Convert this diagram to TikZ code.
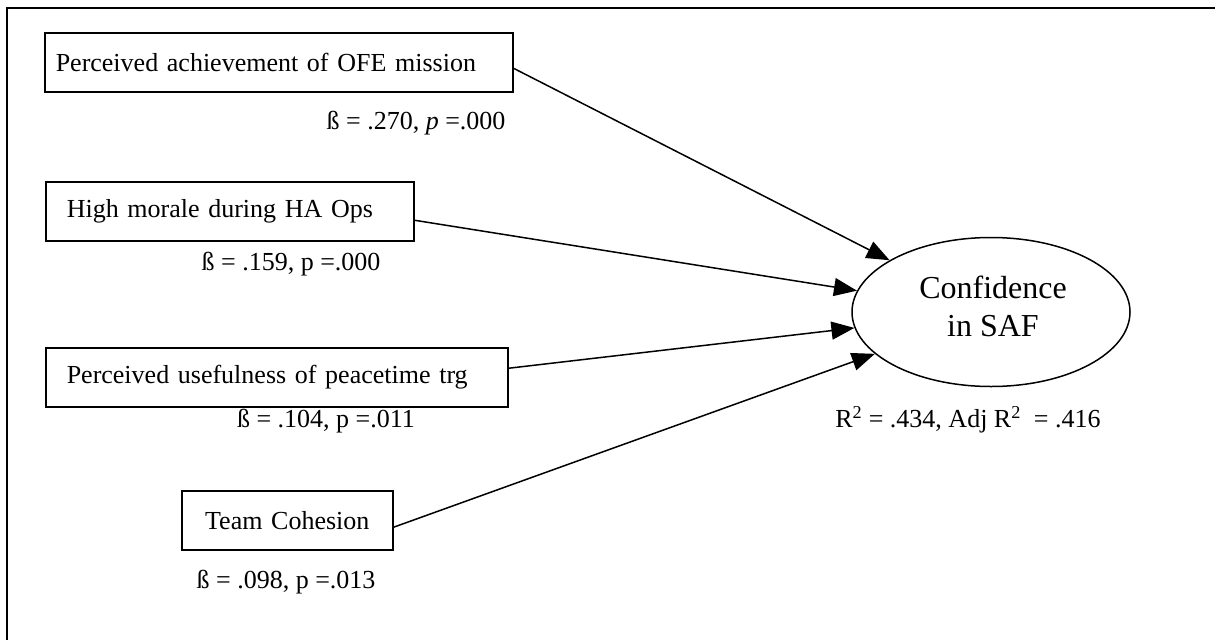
\documentclass[tikz,border=0pt]{standalone}
\usepackage{fontspec}
\setmainfont{Liberation Serif}
\usetikzlibrary{arrows.meta,shapes.geometric}
\begin{document}
\begin{tikzpicture}[x=1pt,y=-1pt,
  every node/.style={font=\fontsize{26}{30}\selectfont, inner sep=0pt},
  varbox/.style={draw, line width=1.5pt, anchor=north west, inner xsep=21pt, align=left, minimum height=59pt},
  coef/.style={anchor=center},
  arr/.style={line width=1.5pt, -{Triangle[length=23pt,width=18pt]}}]
\useasboundingbox (0,0) rectangle (1215,640);
\draw[line width=2.5pt] (7,640) -- (7,8) -- (1215,8);
% predictor boxes
\node[varbox, inner xsep=11pt, text width=446pt, minimum width=468pt] (b1) at (44,32) {Perceived achievement of OFE mission};
\node[varbox, text width=326pt, minimum width=368pt] (b2) at (45,181) {High morale during HA Ops};
\node[varbox, text width=420pt, minimum width=462pt] (b3) at (45,347) {Perceived usefulness of peacetime trg};
\node[varbox, text width=169pt, minimum width=211pt, align=center] (b4) at (181,490) {Team Cohesion};
% coefficient labels
\node[coef] (c1) at (416,123) {ß = .270, \textit{p} =.000};
\node[coef] (c2) at (291,264) {ß = .159, p =.000};
\node[coef] (c3) at (326,421) {ß = .104, p =.011};
\node[coef] (c4) at (286,582) {ß = .098, p =.013};
% outcome
\node[draw, ellipse, line width=1.5pt, minimum width=278pt, minimum height=149pt] (conf) at (991,312) {};
\node[align=center, font=\fontsize{32}{38}\selectfont] (conftext) at (993,306) {Confidence\\in SAF};
\node[coef] (r2) at (968,420) {R\textsuperscript{2} = .434, Adj R\textsuperscript{2}\ \ = .416};
% paths
\draw[arr] ([yshift=-6pt]b1.east) -- (conf);
\draw[arr] ([yshift=-9pt]b2.east) -- (conf);
\draw[arr] ([yshift=9pt]b3.east) -- (conf);
\draw[arr] ([yshift=-7pt]b4.east) -- (conf);
\end{tikzpicture}
\end{document}
